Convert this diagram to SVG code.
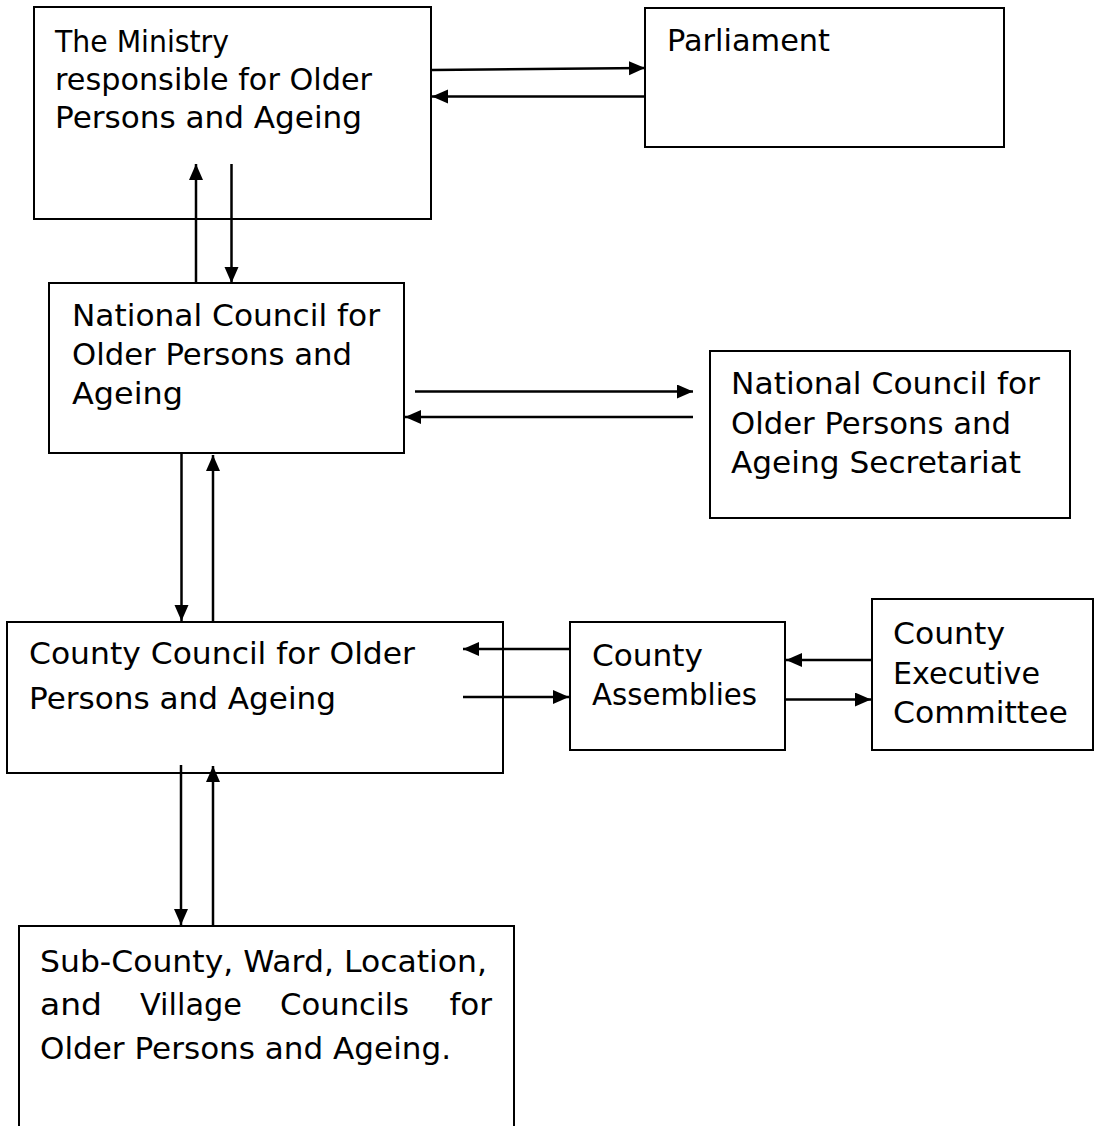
<svg xmlns="http://www.w3.org/2000/svg" width="1094" height="1126" viewBox="0 0 1094 1126">
<style>
.box{fill:#fff;stroke:#000;stroke-width:2}
.t{font-family:"DejaVu Sans",sans-serif;font-size:31px;fill:#000}
.c{stroke:#000;stroke-width:2.5;fill:none;marker-end:url(#ah)}
</style>
<defs>
<marker id="ah" markerUnits="userSpaceOnUse" markerWidth="17" markerHeight="15" refX="16" refY="7" orient="auto">
<path d="M0,0 L16,7 L0,14 z" fill="#000"/>
</marker>
</defs>
<rect width="1094" height="1126" fill="#fff"/>
<g id="ministry">
<rect class="box" x="34" y="7" width="397" height="212"/>
<text class="t" x="55" y="52" textLength="174" lengthAdjust="spacingAndGlyphs">The Ministry</text>
<text class="t" x="55" y="90" textLength="317" lengthAdjust="spacingAndGlyphs">responsible for Older</text>
<text class="t" x="55" y="128" textLength="307" lengthAdjust="spacingAndGlyphs">Persons and Ageing</text>
</g>
<g id="parliament">
<rect class="box" x="645" y="8" width="359" height="139"/>
<text class="t" x="667" y="51" textLength="163" lengthAdjust="spacingAndGlyphs">Parliament</text>
</g>
<g id="national-council">
<rect class="box" x="49" y="283" width="355" height="170"/>
<text class="t" x="72" y="326" textLength="308" lengthAdjust="spacingAndGlyphs">National Council for</text>
<text class="t" x="72" y="365" textLength="280" lengthAdjust="spacingAndGlyphs">Older Persons and</text>
<text class="t" x="72" y="404" textLength="111" lengthAdjust="spacingAndGlyphs">Ageing</text>
</g>
<g id="secretariat">
<rect class="box" x="710" y="351" width="360" height="167"/>
<text class="t" x="731" y="394" textLength="309" lengthAdjust="spacingAndGlyphs">National Council for</text>
<text class="t" x="731" y="434" textLength="280" lengthAdjust="spacingAndGlyphs">Older Persons and</text>
<text class="t" x="731" y="473" textLength="290" lengthAdjust="spacingAndGlyphs">Ageing Secretariat</text>
</g>
<g id="county-council">
<rect class="box" x="7" y="622" width="496" height="151"/>
<text class="t" x="29" y="664" textLength="386" lengthAdjust="spacingAndGlyphs">County Council for Older</text>
<text class="t" x="29" y="709" textLength="307" lengthAdjust="spacingAndGlyphs">Persons and Ageing</text>
</g>
<g id="county-assemblies">
<rect class="box" x="570" y="622" width="215" height="128"/>
<text class="t" x="592" y="666" textLength="111" lengthAdjust="spacingAndGlyphs">County</text>
<text class="t" x="592" y="705" textLength="165" lengthAdjust="spacingAndGlyphs">Assemblies</text>
</g>
<g id="county-executive">
<rect class="box" x="872" y="599" width="221" height="151"/>
<text class="t" x="893" y="644" textLength="112" lengthAdjust="spacingAndGlyphs">County</text>
<text class="t" x="893" y="684" textLength="147" lengthAdjust="spacingAndGlyphs">Executive</text>
<text class="t" x="893" y="723" textLength="175" lengthAdjust="spacingAndGlyphs">Committee</text>
</g>
<g id="sub-county">
<rect class="box" x="19" y="926" width="495" height="220"/>
<text class="t" x="40" y="972" textLength="447" lengthAdjust="spacingAndGlyphs">Sub-County, Ward, Location,</text>
<text class="t" x="40" y="1015" textLength="62" lengthAdjust="spacingAndGlyphs">and</text>
<text class="t" x="140" y="1015" textLength="102" lengthAdjust="spacingAndGlyphs">Village</text>
<text class="t" x="280" y="1015" textLength="129" lengthAdjust="spacingAndGlyphs">Councils</text>
<text class="t" x="492" y="1015" text-anchor="end">for</text>
<text class="t" x="40" y="1059" textLength="411" lengthAdjust="spacingAndGlyphs">Older Persons and Ageing.</text>
</g>
<g id="connectors">
<line class="c" x1="432" y1="70" x2="645" y2="68"/>
<line class="c" x1="645" y1="96.5" x2="432" y2="96.5"/>
<line class="c" x1="196" y1="283" x2="196" y2="164"/>
<line class="c" x1="231.5" y1="164" x2="231.5" y2="283"/>
<line class="c" x1="415" y1="391.5" x2="693" y2="391.5"/>
<line class="c" x1="693" y1="417" x2="405" y2="417"/>
<line class="c" x1="181.5" y1="453" x2="181.5" y2="621"/>
<line class="c" x1="213" y1="621" x2="213" y2="455"/>
<line class="c" x1="570" y1="649" x2="463" y2="649"/>
<line class="c" x1="463" y1="697" x2="569" y2="697"/>
<line class="c" x1="872" y1="660" x2="786" y2="660"/>
<line class="c" x1="786" y1="699.5" x2="871" y2="699.5"/>
<line class="c" x1="181" y1="765" x2="181" y2="925"/>
<line class="c" x1="213" y1="925" x2="213" y2="766"/>
</g>
</svg>
